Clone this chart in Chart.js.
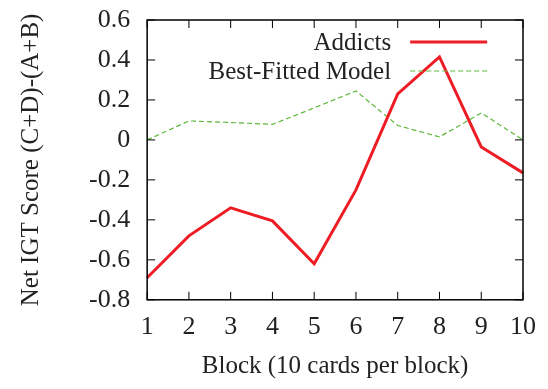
<!DOCTYPE html>
<html>
<head>
<meta charset="utf-8">
<script src="https://cdn.jsdelivr.net/npm/chart.js@4/dist/chart.umd.min.js"></script>
<style>
  html, body { margin: 0; padding: 0; background: #fff; }
  #wrap { width: 548px; height: 389px; }
</style>
</head>
<body>
<div id="wrap"><canvas id="igt"></canvas></div>
<script>
const blocks = ['1', '2', '3', '4', '5', '6', '7', '8', '9', '10'];
const addicts = [-0.69, -0.48, -0.34, -0.405, -0.62, -0.25, 0.23, 0.415, -0.035, -0.165];
const bestFitted = [0.0, 0.095, 0.087, 0.078, 0.16, 0.245, 0.072, 0.015, 0.135, 0.0];
const yTicks = [-0.8, -0.6, -0.4, -0.2, 0, 0.2, 0.4, 0.6];

const serif = "'Liberation Serif', 'Times New Roman', serif";
const txt = '#222';

Chart.defaults.font.family = serif;
Chart.defaults.font.size = 25;
Chart.defaults.color = txt;

// gnuplot-like frame, inward ticks on all four sides, legend in the corner
const framePlugin = {
    id: 'frame',
    afterDatasetsDraw(chart) {
        const ctx = chart.ctx;
        const a = chart.chartArea;
        const xs = chart.scales.x, ys = chart.scales.y;
        ctx.save();
        ctx.strokeStyle = '#000';
        ctx.lineWidth = 1.5;
        ctx.strokeRect(a.left, a.top, a.right - a.left, a.bottom - a.top);
        ctx.beginPath();
        const len = 8;
        blocks.forEach((b, i) => {
            const px = xs.getPixelForValue(i);
            ctx.moveTo(px, a.bottom); ctx.lineTo(px, a.bottom - len);
            ctx.moveTo(px, a.top); ctx.lineTo(px, a.top + len);
        });
        yTicks.forEach(v => {
            const py = ys.getPixelForValue(v);
            ctx.moveTo(a.left, py); ctx.lineTo(a.left + len, py);
            ctx.moveTo(a.right, py); ctx.lineTo(a.right - len, py);
        });
        ctx.lineWidth = 1;
        ctx.stroke();

        // legend
        ctx.font = '25px ' + serif;
        ctx.fillStyle = txt;
        ctx.textAlign = 'right';
        ctx.textBaseline = 'middle';
        const textRight = a.left + 244, lx0 = a.left + 263, lx1 = a.left + 340;
        chart.data.datasets.forEach((ds, i) => {
            const ly = a.top + 22 + i * 29;
            ctx.fillText(ds.label, textRight, ly + 1);
            ctx.beginPath();
            ctx.strokeStyle = ds.borderColor;
            ctx.lineWidth = ds.borderWidth;
            ctx.setLineDash(ds.borderDash || []);
            ctx.moveTo(lx0, ly); ctx.lineTo(lx1, ly);
            ctx.stroke();
            ctx.setLineDash([]);
        });
        ctx.restore();
    }
};

new Chart(document.getElementById('igt'), {
    type: 'line',
    data: {
        labels: blocks,
        datasets: [
            {
                label: 'Addicts',
                data: addicts,
                borderColor: '#ee1c24',
                borderWidth: 3,
                pointRadius: 0,
                tension: 0,
            },
            {
                label: 'Best-Fitted Model',
                data: bestFitted,
                borderColor: '#5cb83a',
                borderWidth: 1.2,
                borderDash: [5, 3],
                pointRadius: 0,
                tension: 0,
            },
        ]
    },
    options: {
        responsive: true,
        maintainAspectRatio: false,
        animation: false,
        layout: { padding: { top: 20, right: 24, left: 16, bottom: 8 } },
        plugins: {
            legend: { display: false },
            tooltip: { enabled: false },
        },
        scales: {
            x: {
                offset: false,
                grid: { display: false, drawTicks: false },
                border: { display: false },
                ticks: {
                    padding: 12, maxRotation: 0, autoSkip: false,
                    font: { family: serif, size: 26 },
                },
                title: {
                    display: true, text: 'Block (10 cards per block)',
                    font: { family: serif, size: 25 }, padding: { top: -4, bottom: 0 },
                },
            },
            y: {
                min: -0.8,
                max: 0.6,
                grid: { display: false, drawTicks: false },
                border: { display: false },
                afterBuildTicks(scale) {
                    scale.ticks = yTicks.map(v => ({ value: v }));
                },
                afterFit(scale) {
                    scale.paddingTop = 0;
                    scale.paddingBottom = 0;
                },
                ticks: {
                    padding: 17,
                    font: { family: serif, size: 26 },
                    callback: v => String(Number(v.toFixed(1))),
                },
                title: {
                    display: true, text: 'Net IGT Score (C+D)-(A+B)',
                    font: { family: serif, size: 25 }, padding: { top: 0, bottom: 26 },
                },
            },
        },
    },
    plugins: [framePlugin],
});
</script>
</body>
</html>
